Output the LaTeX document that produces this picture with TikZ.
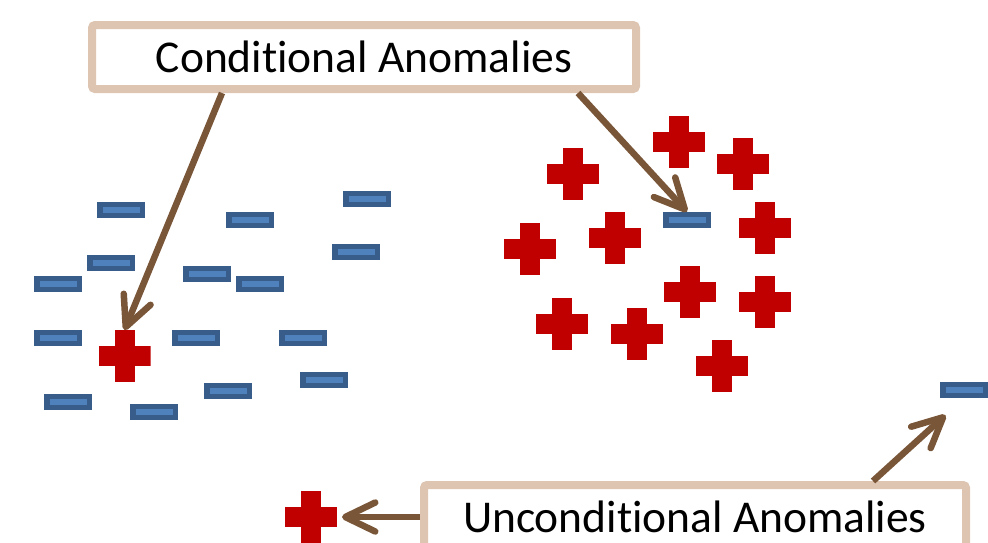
\documentclass[tikz,border=0pt]{standalone}
\usepackage{fontspec}
\setmainfont[Ligatures=NoCommon]{Carlito}
\usepackage{xcolor}
\usepackage{tikz}
\usetikzlibrary{arrows.meta, positioning, calc}
\definecolor{minusfill}{RGB}{79,129,189}
\definecolor{minusedge}{RGB}{56,93,138}
\definecolor{plusred}{RGB}{192,0,0}
\definecolor{arrowbrown}{RGB}{122,86,56}
\definecolor{tagedge}{RGB}{221,197,178}

\begin{document}
\begin{tikzpicture}[x=1pt, y=-1pt,
    minussign/.style={draw=minusedge, fill=minusfill, line width=5.5pt, minimum width=42.5pt, minimum height=11pt, inner sep=0pt},
    plussign/.style={minimum size=52pt, inner sep=0pt, outer sep=0pt, path picture={
        \fill[plusred] ([xshift=-26pt, yshift=-10pt]path picture bounding box.center) rectangle ([xshift=26pt, yshift=10pt]path picture bounding box.center);
        \fill[plusred] ([xshift=-10pt, yshift=-26pt]path picture bounding box.center) rectangle ([xshift=10pt, yshift=26pt]path picture bounding box.center);}},
    tagbox/.style={draw=tagedge, fill=white, line width=8pt, rounded corners=3pt, minimum width=544pt, minimum height=64pt, inner sep=0pt, font=\fontsize{45.5}{54}\selectfont},
    pointer/.style={draw=arrowbrown, line width=6.5pt, -{Straight Barb[length=30pt, width=29pt, round]}}
]
    \useasboundingbox (0,0) rectangle (988,542);
    \clip (0,0) rectangle (988,542);

    % normal points, left cluster
    \foreach \x/\y [count=\i] in {121/210, 250/220, 367/199, 111/263, 356/252, 58/284, 207/274, 260/284,
        58/338, 196/338, 303/338, 68/402, 154/412, 228/391, 324/380}
        \node[minussign] (m\i) at (\x,\y) {};
    % normal points, right cluster
    \foreach \x/\y [count=\i] in {679/142, 743/164, 573/174, 615/238, 765/228, 530/249, 690/292,
        765/302, 562/324, 637/334, 722/366}
        \node[plussign] (p\i) at (\x,\y) {};

    % anomalies
    \node[plussign] (pl) at (124.5,356) {};
    \node[minussign] (mc) at (687,220) {};
    \node[plussign] (pu) at (311,517) {};
    \node[minussign] (mu) at (964,390) {};

    \node[tagbox] (cond) at (364,57) {Conditional Anomalies};
    \node[tagbox, minimum width=542pt] (uncond) at (695,517) {Unconditional Anomalies};

    \draw[pointer] ([xshift=134pt]cond.south west) -- (pl.north);
    \draw[pointer] ([xshift=490pt]cond.south west) -- (mc.north);
    \draw[pointer, shorten >=5pt] (uncond.west) -- (uncond.west -| pu.east);
    \draw[pointer, shorten >=25pt] ([xshift=453pt]uncond.north west) -- (mu.south);
\end{tikzpicture}
\end{document}
